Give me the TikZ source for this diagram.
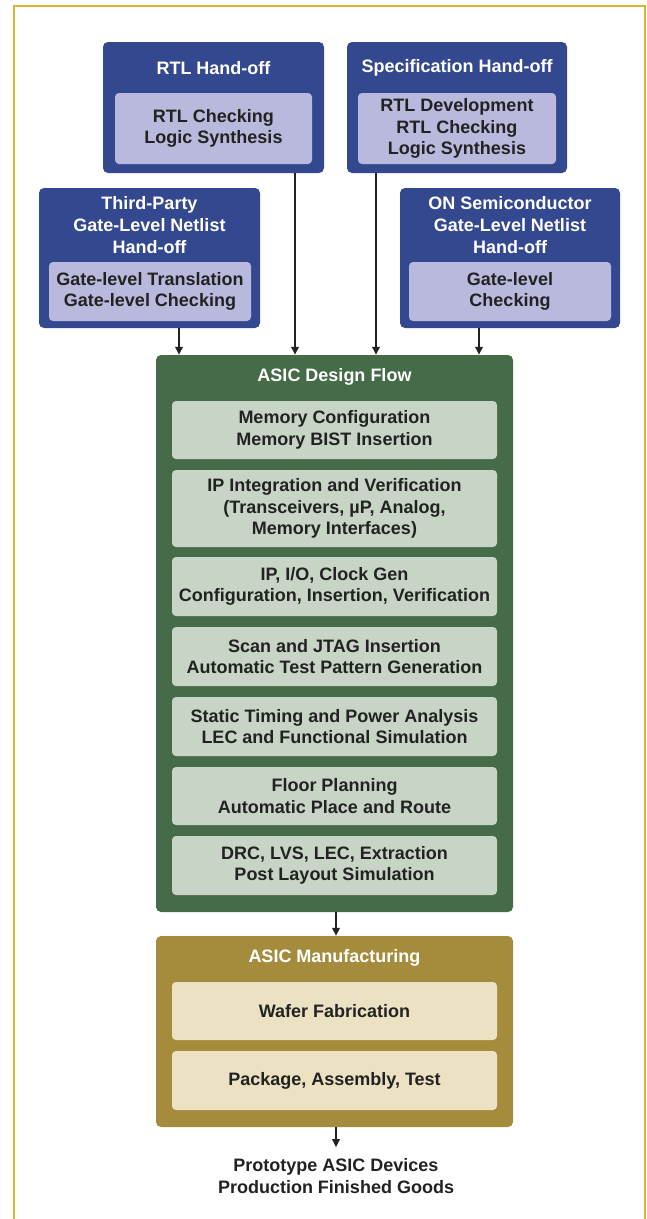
\documentclass[tikz,border=0pt]{standalone}
\usepackage{fontspec}
\setmainfont{Liberation Sans}
\usetikzlibrary{arrows.meta}
\definecolor{navy}{HTML}{34488F}
\definecolor{lav}{HTML}{B8B9DC}
\definecolor{dgreen}{HTML}{466B49}
\definecolor{lgreen}{HTML}{C8D4C6}
\definecolor{dgold}{HTML}{A58C3C}
\definecolor{cream}{HTML}{ECE2C3}
\definecolor{frame}{HTML}{DDB532}
\definecolor{ink}{HTML}{222222}
\tikzset{
  outerbox/.style={rounded corners=5pt, minimum width=#1, inner sep=0pt, draw=none},
  innerbox/.style={rounded corners=4pt, inner sep=0pt, align=center, text=ink,
     font=\fontsize{18}{21.5}\selectfont\bfseries},
  titletext/.style={align=center, text=white, inner sep=0pt,
     font=\fontsize{18}{22}\selectfont\bfseries},
  arr/.style={line width=1.6pt, draw=ink, -{Triangle[length=8pt,width=7.5pt]}},
}
\begin{document}
\begin{tikzpicture}[x=1pt,y=-1pt]
\useasboundingbox (0,0) rectangle (646,1219);
\fill[white] (0,0) rectangle (646,1219);
\draw[frame, line width=2.6pt] (14,1219) -- (14,6) -- (645,6) -- (645,1219);

% RTL Hand-off
\node[outerbox=221pt, fill=navy, minimum height=131pt] (rtl) at (213.5,107.5) {};
\node[titletext] (rtlt) at (213.5,68) {RTL Hand-off};
\node[innerbox, fill=lav, minimum width=197pt, minimum height=71pt] (rtli) at (213.5,128.5) {RTL Checking\\Logic Synthesis};

% Specification Hand-off
\node[outerbox=220pt, fill=navy, minimum height=131pt] (spec) at (457,107.5) {};
\node[titletext] (spect) at (457,68) {Specification Hand-off};
\node[innerbox, fill=lav, minimum width=198pt, minimum height=71pt] (speci) at (457,128.5) {RTL Development\\RTL Checking\\Logic Synthesis};

% Third-Party
\node[outerbox=221pt, fill=navy, minimum height=140pt] (tp) at (149.5,258) {};
\node[titletext] (tpt) at (149.5,225) {Third-Party\\Gate-Level Netlist\\Hand-off};
\node[innerbox, fill=lav, minimum width=202pt, minimum height=59pt] (tpi) at (150,291.5) {Gate-level Translation\\Gate-level Checking};

% ON Semiconductor
\node[outerbox=220pt, fill=navy, minimum height=140pt] (on) at (510,258) {};
\node[titletext] (ont) at (510,225) {ON Semiconductor\\Gate-Level Netlist\\Hand-off};
\node[innerbox, fill=lav, minimum width=202pt, minimum height=59pt] (oni) at (510,291.5) {Gate-level\\Checking};

% ASIC Design Flow
\node[outerbox=357pt, fill=dgreen, minimum height=557pt] (flow) at (334.5,633.5) {};
\node[titletext] (flowt) at (334.5,377) {ASIC Design Flow};
\tikzset{gbox/.style={innerbox, fill=lgreen, minimum width=325pt}}
\node[gbox, minimum height=58pt] (f1) at (334.5,430) {Memory Configuration\\Memory BIST Insertion};
\node[gbox, minimum height=77pt] (f2) at (334.5,508.5) {IP Integration and Verification\\(Transceivers, \textmu P, Analog,\\Memory Interfaces)};
\node[gbox, minimum height=59pt] (f3) at (334.5,586.5) {IP, I/O, Clock Gen\\Configuration, Insertion, Verification};
\node[gbox, minimum height=59pt] (f4) at (334.5,656.5) {Scan and JTAG Insertion\\Automatic Test Pattern Generation};
\node[gbox, minimum height=59pt] (f5) at (334.5,726.5) {Static Timing and Power Analysis\\LEC and Functional Simulation};
\node[gbox, minimum height=58pt] (f6) at (334.5,796) {Floor Planning\\Automatic Place and Route};
\node[gbox, minimum height=59pt] (f7) at (334.5,865.5) {DRC, LVS, LEC, Extraction\\Post Layout Simulation};

% ASIC Manufacturing
\node[outerbox=357pt, fill=dgold, minimum height=191pt] (mfg) at (334.5,1031.5) {};
\node[titletext] (mfgt) at (334.5,958) {ASIC Manufacturing};
\tikzset{cbox/.style={innerbox, fill=cream, minimum width=325pt}}
\node[cbox, minimum height=58pt] (m1) at (334.5,1011) {Wafer Fabrication};
\node[cbox, minimum height=59pt] (m2) at (334.5,1080.5) {Package, Assembly, Test};

% Output text
\node[align=center, text=ink, inner sep=0pt, font=\fontsize{18}{22}\selectfont\bfseries] (out) at (336,1176) {Prototype ASIC Devices\\Production Finished Goods};

% Connectors
\coordinate (a1) at (179,0);
\coordinate (a2) at (295,0);
\coordinate (a3) at (376,0);
\coordinate (a4) at (479,0);
\coordinate (a5) at (336,0);
\draw[arr] (tp.south -| a1) -- (flow.north -| a1);
\draw[arr] (rtl.south -| a2) -- (flow.north -| a2);
\draw[arr] (spec.south -| a3) -- (flow.north -| a3);
\draw[arr] (on.south -| a4) -- (flow.north -| a4);
\draw[arr] (flow.south -| a5) -- (mfg.north -| a5);
\draw[arr, shorten >=11pt] (mfg.south -| a5) -- (out.north -| a5);
\end{tikzpicture}
\end{document}
